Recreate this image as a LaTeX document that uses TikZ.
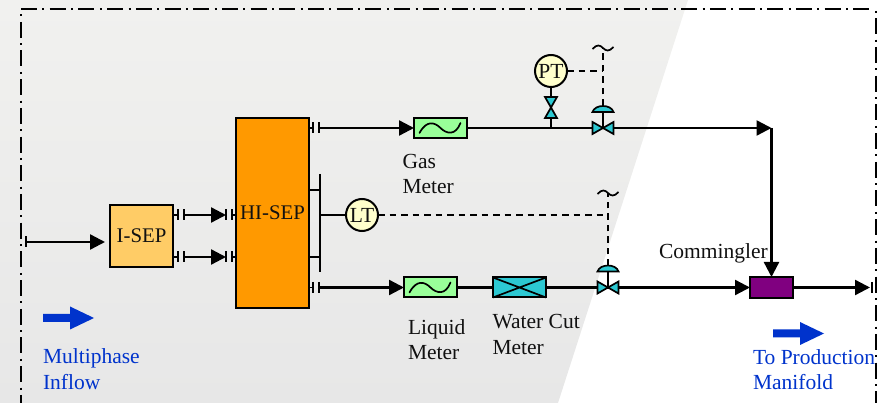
\documentclass[tikz,border=0pt]{standalone}
\usepackage{fontspec}
\setmainfont{Liberation Serif}
\usetikzlibrary{arrows.meta,calc}
\definecolor{valvecol}{HTML}{2CC8D2}
\definecolor{metercol}{HTML}{99FF99}
\definecolor{isepcol}{HTML}{FFCC66}
\definecolor{hisepcol}{HTML}{FF9900}
\definecolor{instcol}{HTML}{FFFFCC}
\definecolor{mixcol}{HTML}{800080}
\definecolor{flowblue}{HTML}{0033CC}
\definecolor{textblack}{HTML}{111111}
\definecolor{bgtop}{HTML}{F1F1EF}
\definecolor{bgbottom}{HTML}{E7E7E7}
\tikzset{
  x=1pt,y=-1pt,
  txt/.style={font=\fontsize{21.5}{25.8}\selectfont,text=textblack,inner sep=0pt,outer sep=0pt,align=left,anchor=base west},
  bluetxt/.style={txt,text=flowblue},
  boxnode/.style={draw=black,line width=2pt,inner sep=0pt,outer sep=0pt,font=\fontsize{20.8}{26}\selectfont,text=textblack},
  meternode/.style={boxnode,fill=metercol,minimum width=53pt,minimum height=20pt},
  instnode/.style={circle,boxnode,fill=instcol,minimum size=32pt,font=\fontsize{21.5}{26}\selectfont},
  pipe/.style={draw=black,line width=2.4pt},
  flowline/.style={pipe,-{Triangle[length=15pt,width=15pt]}},
  thinpipe/.style={draw=black,line width=1.8pt},
  signal/.style={draw=black,line width=1.7pt,dash pattern=on 6.5pt off 5pt},
  frameline/.style={draw=black,line width=1.9pt,dash pattern=on 16pt off 5.4pt on 2pt off 5.3pt},
  flange/.pic={\draw[line width=1.7pt] (0,-5.5)--(0,5.5) (6,-5.5)--(6,5.5);},
  wave/.pic={\draw[line width=1.7pt,line cap=round] (-21,5) .. controls (-14,-8) and (-6,-6) .. (0,0) .. controls (6,6) and (15,8) .. (20,-5);},
  tilde/.pic={\draw[line width=1.7pt] (-10.5,1) .. controls (-6,-4) and (-3,-3) .. (0,0) .. controls (3,3) and (6,4) .. (10.5,-1);},
  valve/.pic={\draw[fill=valvecol,line width=1.7pt,line join=miter] (-10.5,-6)--(10.5,6)--(10.5,-6)--(-10.5,6)--cycle;},
  vvalve/.pic={\draw[fill=valvecol,line width=1.7pt,line join=miter] (-6,-10.5)--(6,10.5)--(-6,10.5)--(6,-10.5)--cycle;},
  actuator/.pic={\draw[thinpipe] (0,0)--(0,-17);
    \draw[fill=valvecol,line width=1.7pt] (-10.5,-16) .. controls (-8,-24) and (8,-24) .. (10.5,-16) -- cycle;},
  crossmark/.pic={\draw[line width=1.7pt] (-26.5,-10)--(26.5,10) (-26.5,10)--(26.5,-10);},
  bluearrow/.pic={\fill[flowblue] (0,-4)--(27,-4)--(27,-11.5)--(51,0)--(27,11.5)--(27,4)--(0,4)--cycle;}
}
\begin{document}
\begin{tikzpicture}
\useasboundingbox (0,0) rectangle (879,403);
% background
\shade[top color=bgtop,bottom color=bgbottom,shading angle=0] (0,0) -- (688,0) -- (558,403) -- (0,403) -- cycle;
% frame
\coordinate (ftl) at (21,9);
\coordinate (ftr) at (873,9);
\coordinate (fls) at (21,14.5);
\coordinate (flb) at (21,403);
\coordinate (frs) at (876,11);
\coordinate (frb) at (876,403);
\draw[frameline] (ftl) -- (ftr);
\draw[frameline,dash phase=21.4pt] (fls) -- (flb);
\draw[frameline,dash phase=21.4pt] (frs) -- (frb);
% named points
\coordinate (inl) at (27,242);
\coordinate (intip) at (105,242);
\coordinate (isa) at (184,215);
\coordinate (isb) at (184,257);
\coordinate (hsa) at (226,215);
\coordinate (hsb) at (226,257);
\coordinate (gass) at (319,128);
\coordinate (liqs) at (319,287.5);
\coordinate (gasv) at (603,128);
\coordinate (liqv) at (608,287.5);
\coordinate (ptv) at (551,107.5);
\coordinate (pttee) at (551,128);
\coordinate (elbow) at (771.5,128);
\coordinate (outl) at (870,287.5);
\coordinate (gast) at (603,48);
\coordinate (liqt) at (608,193);
\coordinate (gdome) at (603,106);
\coordinate (ldome) at (608,266);
\coordinate (busa) at (320,174);
\coordinate (busb) at (320,272);
\coordinate (stubu) at (320,190);
\coordinate (stubd) at (320,257);
\coordinate (ltbus) at (320,215);
% vessels and meters
\node[boxnode,fill=isepcol,minimum width=63pt,minimum height=62pt] (isep) at (141.5,236) {\raisebox{-1pt}{I-SEP}};
\node[boxnode,fill=hisepcol,minimum width=73pt,minimum height=190pt] (hisep) at (272.5,213) {\raisebox{-2pt}{HI-SEP}};
\node[meternode] (gasm) at (440.5,128) {};
\node[meternode] (liqm) at (430.5,287.5) {};
\node[meternode,fill=valvecol] (wcm) at (519.5,287.5) {};
\node[boxnode,fill=mixcol,minimum width=43pt,minimum height=21pt] (mix) at (771.5,287.5) {};
\node[instnode] (pt) at (551,71) {PT};
\node[instnode] (lt) at (362,215) {LT};
% pipes
\draw[flowline] (inl) -- (intip);
\draw[flowline] (isa) -- (hsa);
\draw[flowline] (isb) -- (hsb);
\draw[thinpipe] (isep.east |- isa) -- ++(5,0) (isep.east |- isb) -- ++(5,0);
\draw[thinpipe] (hisep.west |- isa) -- ++(-4,0) (hisep.west |- isb) -- ++(-4,0);
\draw[thinpipe] (hisep.east |- gass) -- ++(4,0) (hisep.east |- liqs) -- ++(4,0);
\draw[flowline] (gass) -- (gasm.west);
\draw[pipe] (gasm.east) -- (gasv);
\draw[flowline] (gasv) -- (elbow);
\draw[flowline] (elbow) -- (mix.north);
\draw[flowline] (liqs) -- (liqm.west);
\draw[pipe] (liqm.east) -- (wcm.west);
\draw[pipe] (wcm.east) -- (liqv);
\draw[flowline] (liqv) -- (mix.west);
\draw[flowline] (mix.east) -- (outl);
\draw[thinpipe] (pt.south) -- (ptv) -- (pttee);
\draw[thinpipe] (busa) -- (busb);
\draw[thinpipe] (hisep.east |- stubu) -- (stubu);
\draw[thinpipe] (hisep.east |- stubd) -- (stubd);
\draw[thinpipe] (ltbus) -- (lt.west);
% signal lines
\draw[signal] (pt.east) -- (gasv |- pt);
\draw[signal] (gdome) -- (gast);
\draw[signal] (lt.east) -- (liqv |- lt);
\draw[signal] (ldome) -- (liqt);
% flanges
\draw[line width=1.7pt] (26,236.5) -- (26,247.5);
\pic at (178,215) {flange};
\pic at (178,257) {flange};
\pic at (226,215) {flange};
\pic at (226,257) {flange};
\pic at (313,128) {flange};
\pic at (313,287.5) {flange};
\draw[line width=1.7pt] (872,282) -- (872,293);
% meter faces
\pic at (gasm) {wave};
\pic at (liqm) {wave};
\pic at (wcm) {crossmark};
% valves and actuators
\pic at (gasv) {actuator};
\pic at (liqv) {actuator};
\pic at (gasv) {valve};
\pic at (liqv) {valve};
\pic at (ptv) {vvalve};
\pic at (gast) {tilde};
\pic at (liqt) {tilde};
% flow arrows
\pic at (43,318) {bluearrow};
\pic at (773,333.5) {bluearrow};
% labels
\node[txt] (gaslbl) at (402.5,194) {Gas\\Meter};
\node[txt] (liqlbl) at (408,360) {Liquid\\Meter};
\node[txt] (wcmlbl) at (492.5,354.5) {Water Cut\\Meter};
\node[txt] (mixlbl) at (659,259) {Commingler};
\node[bluetxt] (inlbl) at (43,389.5) {Multiphase\\Inflow};
\node[bluetxt] (outlbl) at (753,390) {To Production\\Manifold};
\end{tikzpicture}
\end{document}
